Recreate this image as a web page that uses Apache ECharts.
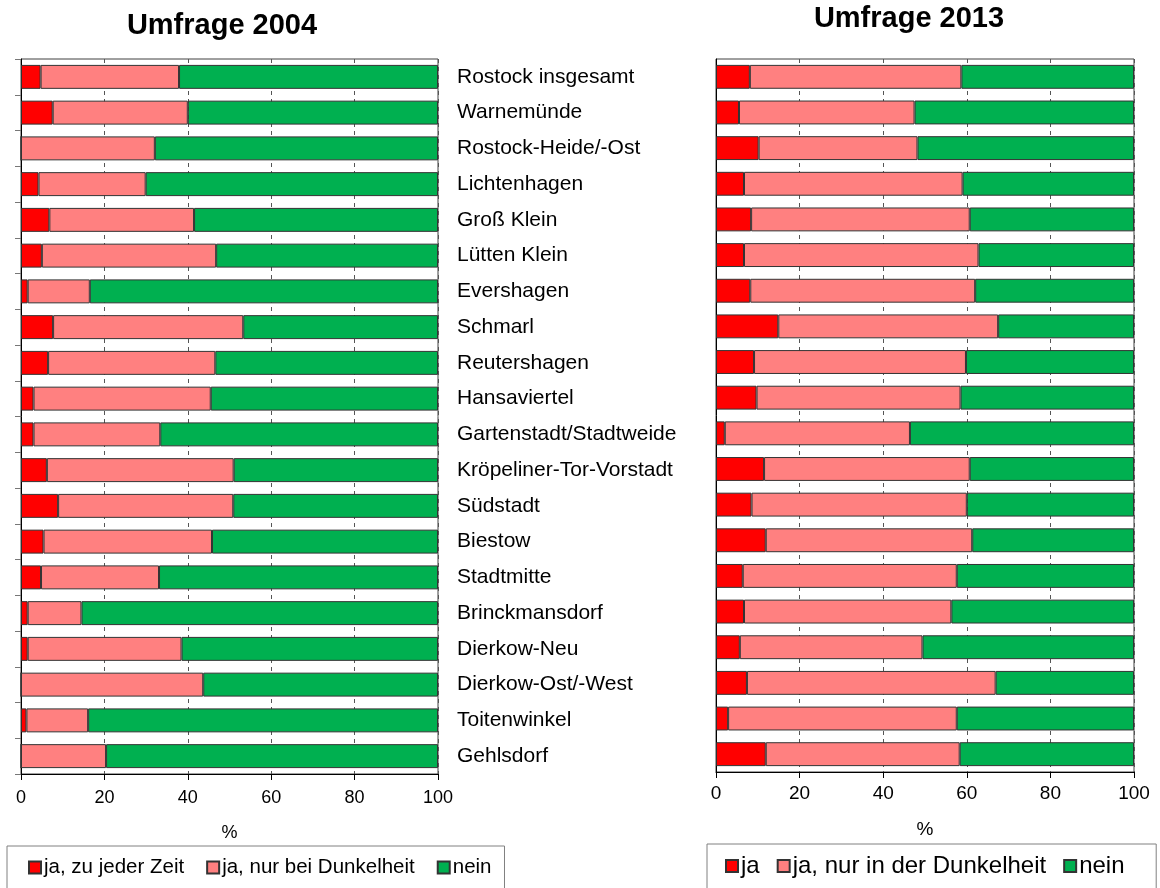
<!DOCTYPE html>
<html>
<head>
<meta charset="utf-8">
<script src="https://cdn.jsdelivr.net/npm/echarts@6/dist/echarts.min.js"></script>
<style>html,body{margin:0;padding:0;background:#fff}#c{width:1160px;height:888px}</style>
</head>
<body>
<div id="c"></div>
<script>
const categories = ["Rostock insgesamt","Warnemünde","Rostock-Heide/-Ost","Lichtenhagen","Groß Klein","Lütten Klein","Evershagen","Schmarl","Reutershagen","Hansaviertel","Gartenstadt/Stadtweide","Kröpeliner-Tor-Vorstadt","Südstadt","Biestow","Stadtmitte","Brinckmansdorf","Dierkow-Neu","Dierkow-Ost/-West","Toitenwinkel","Gehlsdorf"];
const xTicks = [0,20,40,60,80,100];

// Umfrage 2004
const ja2004 = [4.7,7.6,0,4.2,6.8,5.0,1.6,7.7,6.5,3.0,3.0,6.2,8.9,5.4,4.8,1.6,1.6,0,1.3,0];
const dunkel2004 = [33.2,32.4,32.1,25.7,34.7,41.8,14.9,45.6,40.1,42.5,30.4,44.8,42.0,40.4,28.3,12.9,36.9,43.7,14.8,20.4];
const nein2004 = [62.1,60.0,67.9,70.1,58.5,53.2,83.5,46.7,53.4,54.5,66.6,49.0,49.1,54.2,66.9,85.5,61.5,56.3,83.9,79.6];

// Umfrage 2013
const ja2013 = [8.1,5.5,10.2,6.7,8.4,6.7,8.2,14.9,9.1,9.7,2.1,11.5,8.5,11.9,6.4,6.7,5.7,7.4,2.9,11.9];
const dunkel2013 = [50.6,42.0,38.0,52.3,52.3,56.1,53.8,52.6,50.7,48.8,44.3,49.2,51.5,49.4,51.2,49.6,43.7,59.5,54.7,46.4];
const nein2013 = [41.3,52.5,51.8,41.0,39.3,37.2,38.0,32.5,40.2,41.5,53.6,39.3,40.0,38.7,42.4,43.7,50.6,33.1,42.4,41.7];

const names2004 = ["ja, zu jeder Zeit","ja, nur bei Dunkelheit","nein"];
const names2013 = ["ja","ja, nur in der Dunkelheit","nein "];

const colors = ["#FF0000","#FF8080","#00B050"];
const FONT = "Liberation Sans, Arial, sans-serif";

function xAxis(gridIndex, nameGap, fs, margin){
  return {
    type:'value', gridIndex, min:0, max:100, interval:20,
    name:'%', nameLocation:'middle', nameGap,
    nameTextStyle:{fontSize:fs, color:'#000', fontFamily:FONT},
    axisLine:{show:true, lineStyle:{color:'#000', width:1}},
    axisTick:{show:true, length:6, lineStyle:{color:'#000'}},
    axisLabel:{fontSize:fs, color:'#000', fontFamily:FONT, margin,
      formatter:v=> xTicks.includes(v) ? String(v) : ''},
    splitLine:{show:true, lineStyle:{color:'#555', type:[4,4], width:1}}
  };
}
function bar(name, data, xi, yi, ci){
  return {
    type:'bar', name, data, stack:'s'+xi, xAxisIndex:xi, yAxisIndex:yi,
    barCategoryGap:'33%',
    itemStyle:{color:colors[ci], borderColor:'#333', borderWidth:1},
    emphasis:{disabled:true}, animation:false
  };
}

const chart = echarts.init(document.getElementById('c'), null, {renderer:'canvas'});
chart.setOption({
  animation:false,
  textStyle:{fontFamily:FONT},
  title:[
    {text:'Umfrage 2004', left:217, top:6, textAlign:'center',
     textStyle:{fontSize:29, fontWeight:'bold', color:'#000', fontFamily:FONT}},
    {text:'Umfrage 2013', left:904, top:-1, textAlign:'center',
     textStyle:{fontSize:29, fontWeight:'bold', color:'#000', fontFamily:FONT}}
  ],
  grid:[
    {left:21, right:722, top:59, bottom:114, show:true, borderColor:'#404040', borderWidth:1},
    {left:716, right:26, top:59, bottom:116, show:true, borderColor:'#404040', borderWidth:1}
  ],
  xAxis:[xAxis(0,50,18,15), xAxis(1,48,19,12)],
  yAxis:[
    {type:'category', gridIndex:0, data:categories, inverse:true, position:'left',
     axisLine:{show:true, lineStyle:{color:'#000'}},
     axisTick:{show:true, length:6, lineStyle:{color:'#777'}},
     axisLabel:{show:false}},
    {type:'category', gridIndex:0, data:categories, inverse:true, position:'right',
     axisLine:{show:false}, axisTick:{show:false},
     axisLabel:{show:true, fontSize:21, color:'#000', fontFamily:FONT, margin:19, align:'left'}},
    {type:'category', gridIndex:1, data:categories, inverse:true, position:'left',
     axisLine:{show:true, lineStyle:{color:'#000'}}, axisTick:{show:false}, axisLabel:{show:false}}
  ],
  legend:[
    {data:names2004, left:7, top:846, orient:'horizontal',
     itemWidth:12, itemHeight:12, itemGap:22, icon:'rect',
     padding:[11,13,20,21], borderColor:'#808080', borderWidth:1,
     textStyle:{fontSize:20.5, color:'#000', fontFamily:FONT, padding:[0,0,0,-2]}},
    {data:names2013, left:707, top:844, orient:'horizontal',
     itemWidth:12, itemHeight:12, itemGap:17, icon:'rect',
     padding:[10,25,20,18], borderColor:'#808080', borderWidth:1,
     textStyle:{fontSize:24, color:'#000', fontFamily:FONT, padding:[0,0,0,-2]}}
  ],
  series:[
    bar(names2004[0], ja2004, 0, 0, 0),
    bar(names2004[1], dunkel2004, 0, 0, 1),
    bar(names2004[2], nein2004, 0, 0, 2),
    bar(names2013[0], ja2013, 1, 2, 0),
    bar(names2013[1], dunkel2013, 1, 2, 1),
    bar(names2013[2], nein2013, 1, 2, 2)
  ]
});
</script>
</body>
</html>
